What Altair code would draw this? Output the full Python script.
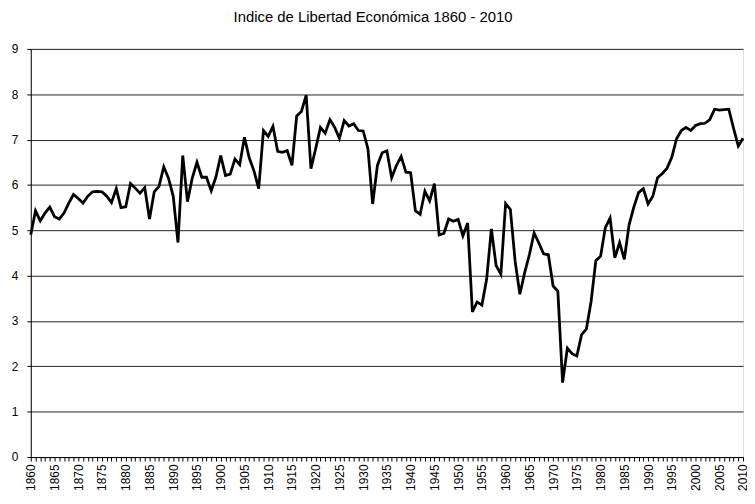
import altair as alt
import pandas as pd

years = list(range(1860, 2011))
index_values = [
    4.90, 5.43, 5.21, 5.38, 5.51, 5.30, 5.25, 5.38, 5.60, 5.79,   # 1860-1869
    5.70, 5.60, 5.75, 5.85, 5.86, 5.85, 5.75, 5.61, 5.92, 5.50,   # 1870-1879
    5.52, 6.03, 5.93, 5.82, 5.94, 5.25, 5.85, 5.97, 6.40, 6.15,   # 1880-1889
    5.75, 4.73, 6.65, 5.63, 6.15, 6.50, 6.17, 6.17, 5.87, 6.18,   # 1890-1899
    6.65, 6.21, 6.24, 6.57, 6.45, 7.05, 6.60, 6.31, 5.92, 7.20,   # 1900-1909
    7.07, 7.29, 6.74, 6.72, 6.76, 6.43, 7.52, 7.62, 7.98, 6.36,   # 1910-1919
    6.80, 7.27, 7.14, 7.44, 7.27, 7.03, 7.42, 7.30, 7.35, 7.20,   # 1920-1929
    7.19, 6.80, 5.58, 6.43, 6.71, 6.75, 6.16, 6.43, 6.63, 6.28,   # 1930-1939
    6.27, 5.43, 5.35, 5.86, 5.65, 6.03, 4.90, 4.93, 5.25, 5.20,   # 1940-1949
    5.24, 4.88, 5.16, 3.20, 3.42, 3.35, 3.92, 5.03, 4.22, 4.03,   # 1950-1959
    5.59, 5.46, 4.32, 3.59, 4.06, 4.46, 4.94, 4.72, 4.48, 4.46,   # 1960-1969
    3.77, 3.66, 1.64, 2.40, 2.28, 2.23, 2.70, 2.82, 3.43, 4.33,   # 1970-1979
    4.43, 5.06, 5.27, 4.39, 4.73, 4.36, 5.12, 5.51, 5.83, 5.92,   # 1980-1989
    5.58, 5.75, 6.16, 6.25, 6.37, 6.61, 7.02, 7.20, 7.27, 7.20,   # 1990-1999
    7.31, 7.35, 7.36, 7.44, 7.67, 7.65, 7.66, 7.67, 7.25, 6.86,   # 2000-2009
    7.03,                                                          # 2010
]
y_ticks = list(range(0, 10))
title_text = "Indice de Libertad Económica 1860 - 2010"

df = pd.DataFrame({"year": years, "value": index_values})

FONT = "Liberation Sans"

chart = (
    alt.Chart(df)
    .mark_line(color="black", strokeWidth=2.8)
    .encode(
        x=alt.X(
            "year:Q",
            scale=alt.Scale(domain=[1860, 2010], nice=False, zero=False),
            axis=alt.Axis(
                values=years,
                format="d",
                labelExpr="datum.value % 5 === 0 ? datum.label : ''",
                labelAngle=270,
                labelAlign="right",
                labelBaseline="middle",
                labelOverlap=False,
                labelFlush=False,
                tickSize=4,
                tickColor="black",
                domainColor="black",
                grid=False,
                title=None,
                labelFont=FONT,
                labelFontSize=12,
                labelColor="black",
                labelPadding=3,
            ),
        ),
        y=alt.Y(
            "value:Q",
            scale=alt.Scale(domain=[0, 9], nice=False),
            axis=alt.Axis(
                values=y_ticks,
                grid=True,
                gridColor="#222222",
                gridWidth=1,
                tickSize=4,
                tickColor="black",
                domainColor="black",
                title=None,
                labelFont=FONT,
                labelFontSize=12,
                labelColor="black",
                labelPadding=9,
            ),
        ),
    )
    .properties(
        width=719,
        height=412,
        autosize="none",
        padding={"left": 23, "top": 39, "right": 4, "bottom": 33},
        title=alt.TitleParams(
            text=title_text,
            font=FONT,
            fontSize=15,
            fontWeight="normal",
            color="black",
            anchor="middle",
            frame="group",
            offset=18,
            dx=-14,
        ),
    )
    .configure_view(stroke="#999999", strokeWidth=1)
    .configure(background="white")
)

chart.save("out.html", embed_options={"renderer": "svg", "actions": False})
